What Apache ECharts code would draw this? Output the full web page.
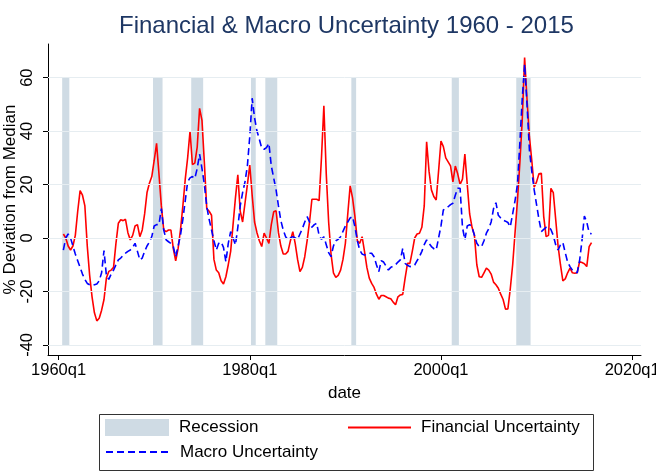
<!DOCTYPE html>
<html><head><meta charset="utf-8">
<script src="https://cdn.jsdelivr.net/npm/echarts@6/dist/echarts.min.js"></script>
<style>html,body{margin:0;padding:0;background:#fff}#c{width:656px;height:474px}</style>
</head><body><div id="c"></div>
<script>
// ---- data ----
const startQuarter = '1960q3';
const financial = [
  1.5, 0, -3, -4.5, -3, 1, 10, 17.7, 16, 12,
  -3, -14, -22, -28, -31, -30, -27, -23, -15, -12.5,
  -12, -11, -2, 5.5, 6.8, 6.5, 7, 2, -0.7, 1,
  4.5, 5, 0.5, 3, 9, 17, 20.5, 23, 29, 35.4,
  24, 12, 3, 2.4, 3, 3, -4, -8.5, -4, 3,
  12, 22, 30, 40, 27.5, 28, 34, 48.5, 44, 28,
  11, 10, 8.5, -8, -12, -13, -16, -17.2, -14.5, -10,
  -5, 5, 15, 23.6, 10, 6, 13, 20, 27.3, 16,
  6, 2, -1, -3.2, 1.8, 0, -2, 5, 9.8, 10.2,
  2, -3, -6, -6, -5, -1, 2.4, -2, -8, -12.6,
  -11, -7, -1, 6, 14.5, 14.5, 14.5, 14, 30, 49.5,
  24, 6, -6, -13, -14.7, -14, -12, -8, -2, 9,
  19.5, 15, 8, -1, -2, 0.5, -5, -11, -15, -17,
  -18.5, -21, -22.9, -21.5, -21.5, -22, -22.5, -22.7, -24, -25,
  -22, -21.3, -21.1, -15, -9.5, -9.5, -5, 0, 1.5, 1.8,
  4, 12, 36, 25, 18, 15.5, 14.2, 25, 36.3, 34.2,
  30, 28.5, 27, 21, 26.9, 24, 20, 22, 31.4, 20,
  9, 4, 1, -10, -14.5, -14.7, -13, -11.3, -12, -13.5,
  -16.5, -17.5, -18.8, -21, -23, -26.6, -26.5, -19, -10, 2,
  14, 28, 44, 67.5, 52, 38, 29, 19, 21, 24,
  24.2, 8, 0.5, 1, 18.6, 17, 7, -3, -10, -16,
  -15.3, -13, -11.3, -13, -13.2, -13, -8.9, -9.2, -9.6, -10.7,
  -3.2, -1.7
];
const macro = [
  -4.5, 0, 1.5, 0, -3, -6, -8.5, -11, -13.5, -15.5,
  -17, -17.5, -17.8, -17.5, -17.2, -16, -13, -4.7, -14, -15.5,
  -13.5, -12, -10, -8.2, -7.5, -6.5, -5.7, -5, -4.5, -3.5,
  -2, -5, -8.2, -7.5, -5, -3, -1.5, 0.5, 4.5, 5,
  5, 11, 3, -0.7, -1.4, -2, -3.2, -7, -3, 1,
  7, 14, 21, 22.5, 23, 22.3, 26, 31.4, 26, 20,
  11.7, 7, 3, -1, -4.5, -2, -1.5, -3.5, -8.9, -2,
  2.4, 0, -2.6, 4, 12, 17, 21, 27, 38, 52.3,
  45, 40, 37, 33.6, 33.2, 33.8, 35.4, 27, 22.5, 18,
  12, 6.5, 3, 0.5, -0.7, 0, 0.5, 0, -0.5, 1.5,
  3.5, 6, 8, 6, 4, 5, 5.5, 1, -0.5, 0.5,
  -2.5, -5.5, -7, -3, -1, -0.5, 0.5, 2.5, 4.5, 6,
  7.5, 8, 4.2, -1, -4.5, -6, -6.4, -6, -5.7, -5.7,
  -7, -10, -12.6, -8.5, -9, -10.5, -12, -11, -10.5, -10,
  -9, -8.2, -3.9, -9.5, -10.2, -10.7, -10.5, -10.1, -8.5, -7,
  -5, -2.5, -0.7, -2, -3.2, -4, -4.5, 0, 4.5, 10.5,
  11, 11.7, 12.5, 13, 16, 18.6, 18.6, 4, -0.7, 4.5,
  5, 4, 1, -2, -3.2, -3.2, -1, 1.8, 3.5, 6,
  11, 13.2, 8.5, 7.5, 6.7, 6.3, 5.8, 4.2, 9, 14,
  20, 35.4, 52, 65, 50, 33, 25, 18, 12.5, 7,
  2.4, 3.2, 4, 4.2, 3.2, 1, -2.5, -4.5, -2.6, -1.7,
  -5.5, -9, -10.7, -12, -12.7, -13, -8.5, -1, 8.2, 6,
  2, 1.5
];
const recessionPeak   = ['1960q2','1969q4','1973q4','1980q1','1981q3','1990q3','2001q1','2007q4'];
const recessionTrough = ['1961q1','1970q4','1975q1','1980q3','1982q4','1991q1','2001q4','2009q2'];
const recessionBand = [-40, 60];
const xTickLabels = ['1960q1','1980q1','2000q1','2020q1'];
const yTickValues = [-40, -20, 0, 20, 40, 60];

// ---- helpers ----
function qIndex(s){ const p = s.split('q'); return (Number(p[0]) - 1960) * 4 + (Number(p[1]) - 1); }
const t0 = qIndex(startQuarter);
const finData = financial.map((v, i) => [t0 + i, v]);
const macData = macro.map((v, i) => [t0 + i, v]);
const recData = recessionPeak.map((p, i) => [qIndex(p) + 0.5, qIndex(recessionTrough[i]) + 0.5]);
const xTickVals = xTickLabels.map(qIndex);
const labelOf = {}; xTickLabels.forEach((l) => { labelOf[qIndex(l)] = l; });

const FONT = '"Liberation Sans", Arial, Helvetica, sans-serif';
const chart = echarts.init(document.getElementById('c'), null, {renderer: 'canvas'});
const legText = {fontFamily: FONT, fontSize: 17, color: '#000', padding: [0, 0, 0, 5]};
chart.setOption({
  animation: false,
  backgroundColor: '#ffffff',
  textStyle: {fontFamily: FONT},
  title: {
    text: 'Financial & Macro Uncertainty 1960 - 2015',
    left: 114, top: 9,
    textStyle: {fontFamily: FONT, fontSize: 24, fontWeight: 'normal', color: '#1e3764'}
  },
  grid: {left: 48, right: 15, top: 44, bottom: 119, containLabel: false, outerBoundsMode: 'none'},
  xAxis: {
    type: 'value', min: -4.43, max: 243.7,
    name: 'date', nameLocation: 'middle', nameGap: 30, nameMoveOverlap: false,
    nameTextStyle: {fontFamily: FONT, fontSize: 17, color: '#000'},
    axisLine: {show: true, onZero: false, lineStyle: {color: '#000', width: 1}},
    axisTick: {show: true, length: 5, customValues: xTickVals, lineStyle: {color: '#000'}},
    axisLabel: {customValues: xTickVals, formatter: (v) => labelOf[v] || '', fontFamily: FONT, fontSize: 16.5, color: '#000', margin: 7, hideOverlap: false},
    splitLine: {show: false}
  },
  yAxis: {
    type: 'value', min: -43.77, max: 72.58,
    name: '% Deviation from Median', nameLocation: 'middle', nameGap: 29, nameRotate: 90, nameMoveOverlap: false,
    nameTextStyle: {fontFamily: FONT, fontSize: 17, color: '#000'},
    axisLine: {show: true, onZero: false, lineStyle: {color: '#000', width: 1}},
    axisTick: {show: true, length: 5, customValues: yTickValues, lineStyle: {color: '#000'}},
    axisLabel: {customValues: yTickValues, rotate: 90, fontFamily: FONT, fontSize: 16.5, color: '#000', margin: 12.5},
    splitLine: {show: false}
  },
  legend: [
    {data: ['Recession'], left: 100, top: 414, icon: 'rect', itemWidth: 64, itemHeight: 17,
     textStyle: legText, selectedMode: false},
    {data: ['Financial Uncertainty'], left: 342, top: 414, itemWidth: 63, itemHeight: 17,
     itemStyle: {opacity: 0}, textStyle: legText, selectedMode: false},
    {data: ['Macro Uncertainty'], left: 100, top: 438.5, itemWidth: 64, itemHeight: 17,
     itemStyle: {opacity: 0}, textStyle: legText, selectedMode: false}
  ],
  graphic: [
    {type: 'rect', left: 97, top: 412, shape: {width: 494, height: 56}, style: {fill: 'none', stroke: '#333', lineWidth: 1}, silent: true, z: 0}
  ],
  series: [
    {
      name: '__grid', type: 'line', data: [], z: 1, silent: true,
      markLine: {
        silent: true, symbol: ['none', 'none'], label: {show: false},
        lineStyle: {color: '#e6edf1', width: 1, type: 'solid'},
        data: yTickValues.map((v) => ({yAxis: v}))
      }
    },
    {
      name: 'Recession', type: 'custom', z: 2, silent: true,
      itemStyle: {color: '#cfdbe4'},
      encode: {x: [0, 1]},
      data: recData,
      renderItem: (params, api) => {
        const p1 = api.coord([api.value(0), recessionBand[1]]);
        const p2 = api.coord([api.value(1), recessionBand[0]]);
        return {type: 'rect', shape: {x: p1[0], y: p1[1], width: p2[0] - p1[0], height: p2[1] - p1[1]},
                style: {fill: '#cfdbe4'}};
      }
    },
    {
      name: 'Financial Uncertainty', type: 'line', z: 3, data: finData,
      symbol: 'none', showSymbol: false,
      itemStyle: {color: '#ff0000'},
      lineStyle: {color: '#ff0000', width: 1.6}
    },
    {
      name: 'Macro Uncertainty', type: 'line', z: 4, data: macData,
      symbol: 'none', showSymbol: false,
      itemStyle: {color: '#0000ff'},
      lineStyle: {color: '#0000ff', width: 1.6, type: [7, 4]}
    }
  ]
});
</script></body></html>
